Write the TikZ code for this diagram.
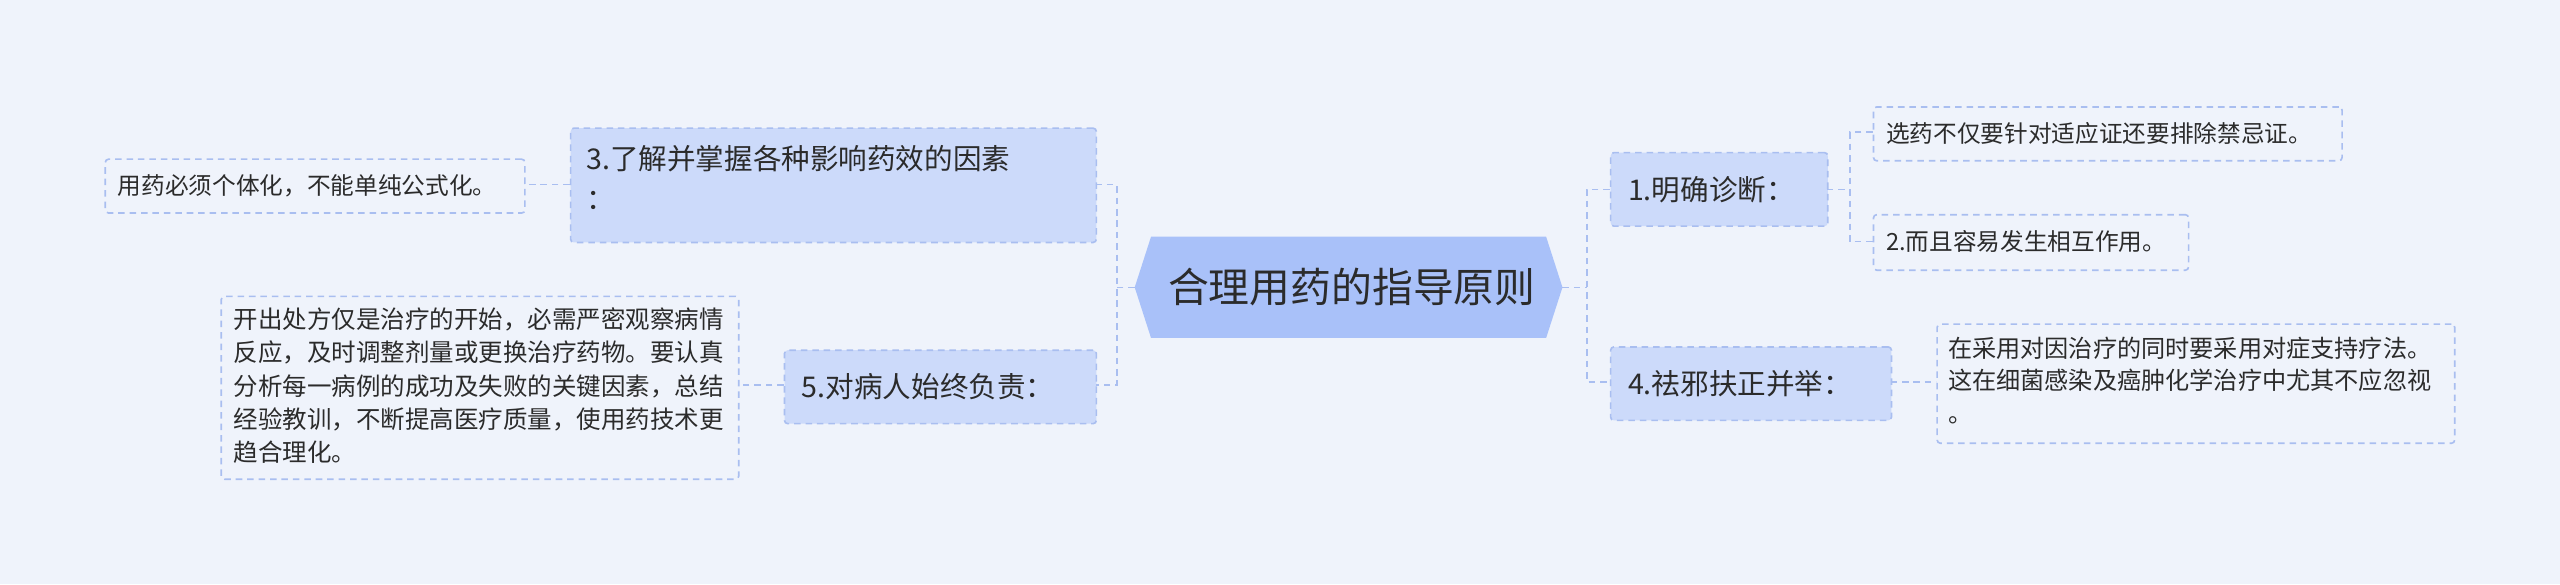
\documentclass[tikz,border=0pt]{standalone}
\usepackage{fontspec}
\setmainfont{Noto Sans CJK SC}
\usetikzlibrary{shapes.geometric}
\definecolor{bg}{HTML}{EFF3FB}
\definecolor{hub}{HTML}{A9C1F9}
\definecolor{lvl}{HTML}{CCDAFA}
\definecolor{ln}{HTML}{A9BEF0}
\definecolor{tx}{HTML}{2B2B2B}
\tikzset{
 lone/.style={draw=ln,dashed,line width=1pt,dash pattern=on 4pt off 3pt},
 box/.style={lone,fill=lvl,rounded corners=2pt,inner sep=0pt,anchor=north west},
 leaf/.style={lone,rounded corners=2pt,inner sep=0pt,anchor=north west},
 con/.style={lone},
 lt/.style={text=tx,font=\fontsize{17.5}{24}\selectfont,inner sep=0pt},
 st/.style={text=tx,font=\fontsize{14.5}{19}\selectfont,inner sep=0pt,align=left}
}
\begin{document}
\begin{tikzpicture}[x=1pt,y=-1pt]
\fill[bg] (0,0) rectangle (1568,358);
\useasboundingbox (0,0) rectangle (1568,358);
% hub
\fill[hub] (695,176) -- (705,145) -- (947,145) -- (957,176) -- (947,207) -- (705,207) -- cycle;
\node[text=tx,font=\fontsize{25}{28}\selectfont] (hub) at (828,176) {合理用药的指导原则};
\coordinate (hr) at (957,176); \coordinate (hl) at (695,176);
% level 1
\node[box,minimum width=133pt,minimum height=45pt] (b1) at (986,93) {};
\node[lt,anchor=west] at (997,116) {1.明确诊断：};
\node[box,minimum width=172pt,minimum height=45pt] (b4) at (986,212) {};
\node[lt,anchor=west] at (997,235) {4.祛邪扶正并举：};
\node[box,minimum width=322pt,minimum height=70pt] (b3) at (349,78) {};
\node[lt,anchor=north west,align=left] at (359,89) {3.了解并掌握各种影响药效的因素\\：};
\node[box,minimum width=191pt,minimum height=45pt] (b5) at (480,214) {};
\node[lt,anchor=west] at (491,237) {5.对病人始终负责：};
% leaves
\node[leaf,minimum width=287pt,minimum height=33pt] (l1) at (1147,65) {};
\node[st,anchor=west] at (1155,81.5) {选药不仅要针对适应证还要排除禁忌证。};
\node[leaf,minimum width=193pt,minimum height=34pt] (l2) at (1147,131) {};
\node[st,anchor=west] at (1155,148) {2.而且容易发生相互作用。};
\node[leaf,minimum width=317pt,minimum height=73pt] (l4) at (1186,198) {};
\node[st,anchor=north west,font=\fontsize{14.8}{20}\selectfont] at (1193,206) {在采用对因治疗的同时要采用对症支持疗法。\\这在细菌感染及癌肿化学治疗中尤其不应忽视\\。};
\node[leaf,minimum width=257pt,minimum height=33pt] (l3) at (64,97) {};
\node[st,anchor=west] at (72,113.5) {用药必须个体化，不能单纯公式化。};
\node[leaf,minimum width=317pt,minimum height=112pt] (l5) at (135,181) {};
\node[st,anchor=north west,font=\fontsize{15}{20.5}\selectfont] at (143,188) {开出处方仅是治疗的开始，必需严密观察病情\\反应，及时调整剂量或更换治疗药物。要认真\\分析每一病例的成功及失败的关键因素，总结\\经验教训，不断提高医疗质量，使用药技术更\\趋合理化。};
% connectors
\draw[con] (hr) -- (972,176);
\draw[con] (986,116) -- (972,116) -- (972,234) -- (986,234);
\draw[con] (1119,116) -- (1133,116);
\draw[con] (1147,81) -- (1133,81) -- (1133,148) -- (1147,148);
\draw[con] (1158,234) -- (1186,234);
\draw[con] (hl) -- (684,176);
\draw[con] (671,113) -- (684,113) -- (684,236) -- (671,236);
\draw[con] (349,113) -- (321,113);
\draw[con] (480,236) -- (452,236);
\end{tikzpicture}
\end{document}
